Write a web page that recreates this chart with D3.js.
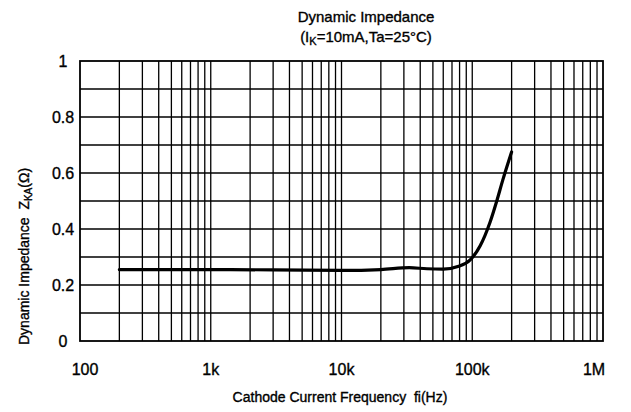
<!DOCTYPE html>
<html>
<head>
<meta charset="utf-8">
<script src="https://cdn.jsdelivr.net/npm/d3@7"></script>
<style>
  body { margin: 0; background: #fff; }
  svg text { font-family: "Liberation Sans", Arial, sans-serif; fill: #000; stroke: #000; stroke-width: 0.35; }
</style>
</head>
<body>
<svg id="chart" width="631" height="412"></svg>
<script>
'use strict';

// curve
var freqs = [200, 500, 1000, 3000, 10000, 20000, 33000, 45000, 60000, 80000, 96000, 115000, 137000, 154000, 172000, 200000];
var zka = [0.255, 0.255, 0.255, 0.254, 0.252, 0.255, 0.262, 0.258, 0.257, 0.268, 0.289, 0.34, 0.425, 0.5, 0.578, 0.675];

var xTickValues = [100, 1000, 10000, 100000, 1000000];
var xTickLabels = ['100', '1k', '10k', '100k', '1M'];
var yTickValues = [0, 0.2, 0.4, 0.6, 0.8, 1];
var yTickLabels = ['0', '0.2', '0.4', '0.6', '0.8', '1'];

var margin = {left: 80, right: 28, top: 61, bottom: 71};
var width = 631, height = 412;

var svg = d3.select('#chart');

var x = d3.scaleLog().domain([100, 1000000]).range([margin.left, width - margin.right]);
var y = d3.scaleLinear().domain([0, 1]).range([height - margin.bottom, margin.top]);

// grid: every 1..9 inside each decade, every 0.1 vertically
var xGrid = [];
for (var d = 100; d < 1000000; d *= 10) {
  for (var k = 2; k <= 9; k++) { xGrid.push(d * k); }
  if (d > 100) { xGrid.push(d); }
}
var yGrid = d3.range(1, 10).map(function(i) { return i / 10; });

var grid = svg.append('g').attr('stroke', '#000').attr('stroke-width', 1.3);
grid.selectAll('line.v').data(xGrid).enter().append('line')
  .attr('x1', function(v) { return x(v); }).attr('x2', function(v) { return x(v); })
  .attr('y1', y(0)).attr('y2', y(1));
grid.selectAll('line.h').data(yGrid).enter().append('line')
  .attr('x1', x(100)).attr('x2', x(1000000))
  .attr('y1', function(v) { return y(v); }).attr('y2', function(v) { return y(v); });

svg.append('rect')
  .attr('x', x(100)).attr('y', y(1))
  .attr('width', x(1000000) - x(100)).attr('height', y(0) - y(1))
  .attr('fill', 'none').attr('stroke', '#000').attr('stroke-width', 1.8);

// curve
var line = d3.line()
  .x(function(d) { return x(d[0]); })
  .y(function(d) { return y(d[1]); })
  .curve(d3.curveMonotoneX);

svg.append('path')
  .datum(d3.zip(freqs, zka))
  .attr('d', line)
  .attr('fill', 'none').attr('stroke', '#000').attr('stroke-width', 3.2)
  .attr('stroke-linecap', 'round');

// tick labels
svg.selectAll('text.xt').data(xTickValues).enter().append('text')
  .attr('x', function(v, i) { return x(v) + (i === 0 ? 5 : (i === xTickValues.length - 1 ? -9 : 0)); })
  .attr('y', 375)
  .attr('text-anchor', 'middle')
  .style('font-size', '16px')
  .text(function(v, i) { return xTickLabels[i]; });

svg.selectAll('text.yt').data(yTickValues).enter().append('text')
  .attr('x', 63)
  .attr('y', function(v) { return y(v) + 6; })
  .attr('text-anchor', 'middle')
  .style('font-size', '16px')
  .text(function(v, i) { return yTickLabels[i]; });

// titles
svg.append('text').attr('x', 366).attr('y', 22).attr('text-anchor', 'middle')
  .style('font-size', '15px').text('Dynamic Impedance');
var sub = svg.append('text').attr('x', 366).attr('y', 42).attr('text-anchor', 'middle')
  .style('font-size', '15px');
sub.append('tspan').text('(I');
sub.append('tspan').attr('dy', 3).style('font-size', '11px').text('K');
sub.append('tspan').attr('dy', -3).text('=10mA,Ta=25°C)');

svg.append('text').attr('x', 340).attr('y', 402).attr('text-anchor', 'middle')
  .style('font-size', '14px').attr('xml:space', 'preserve')
  .text('Cathode Current Frequency  fi(Hz)');

var yl = svg.append('text')
  .attr('transform', 'translate(29,345) rotate(-90)')
  .attr('text-anchor', 'start')
  .attr('xml:space', 'preserve')
  .style('font-size', '14px');
yl.append('tspan').text('Dynamic Impedance  Z');
yl.append('tspan').attr('dy', 3).style('font-size', '10px').text('KA');
yl.append('tspan').attr('dy', -3).text('(Ω)');
</script>
</body>
</html>
